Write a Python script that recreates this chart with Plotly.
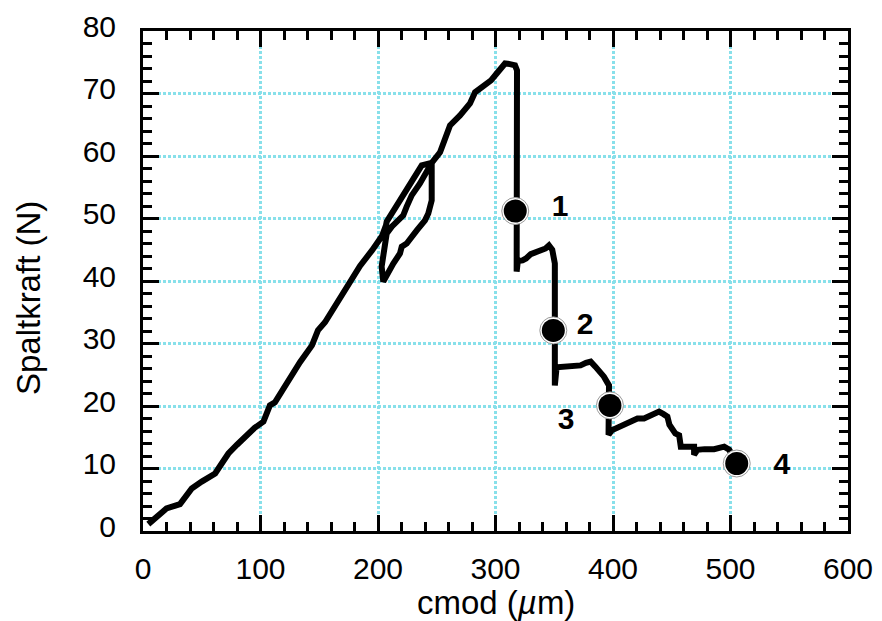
import plotly.graph_objects as go

# Load–CMOD curve (cmod in µm, force in N)
cmod = [4.5, 10, 20, 31.5, 36, 41.5, 50, 61.4, 67, 72.7, 80, 88.4, 95, 102.5, 105, 108,
        112.3, 120.9, 133.6, 143.8, 148.9, 154.9, 163.4, 174.5, 184.7, 194.9, 203.4, 206.8,
        207.4, 218.7, 228.7, 237.2, 245.7,
        245.7, 245.7, 242.8, 240, 233, 224.4, 220.2, 218.7, 213, 204.5,
        203.1, 207.4, 211.7, 221.5, 224.4, 228.7, 235.7, 241.4, 245.7,
        252.8, 261.3, 269.8, 278.3, 282.6, 286.8, 292.5, 296.2, 301, 308.1, 312.3, 316.6, 318.3,
        318, 318, 319, 323, 326, 330, 334, 338, 342.6, 345.5, 348.3, 350.5,
        350.5, 352, 356, 361, 366, 372.4, 377, 381, 385, 389, 392.3, 396.6,
        396.6, 396.2, 398.9, 404, 409.3, 415, 420.8, 426.4, 432, 436, 439.2, 443, 446.3, 448,
        450.6, 453, 456.3, 457.7, 463, 469, 469, 471.9, 478, 486, 494.6, 498.9, 505.3]
force = [1.1, 2.0, 3.6, 4.3, 5.5, 6.8, 7.9, 9.2, 10.8, 12.4, 13.8, 15.4, 16.5, 17.5, 18.5, 20.1,
         20.6, 23.3, 27.0, 29.7, 32.1, 33.4, 36.1, 39.3, 42.4, 44.9, 47.2, 48.9,
         49.5, 52.9, 56.1, 58.5, 58.9,
         57.7, 52.9, 50.8, 49.7, 48.1, 46.0, 45.5, 44.4, 42.8, 39.9,
         42.3, 47.6, 48.7, 50.5, 51.9, 53.7, 55.6, 57.4, 58.9,
         60.6, 64.9, 66.5, 68.4, 70.2, 70.8, 71.6, 72.1, 73.2, 74.8, 74.7, 74.5, 73.7,
         51.2, 41.5, 43.2, 43.3, 43.6, 44.3, 44.6, 45.0, 45.2, 45.7, 45.0, 42.8,
         23.3, 26.2, 26.3, 26.3, 26.4, 26.5, 26.9, 27.1, 26.3, 25.5, 24.7, 23.3,
         20.1, 15.4, 16.1, 16.5, 16.9, 17.3, 18.0, 18.0, 18.5, 19.0, 19.1, 18.7, 18.3, 17.0,
         16.1, 15.6, 15.3, 13.5, 13.5, 13.5, 12.2, 13.0, 13.1, 13.1, 13.5, 13.0, 10.8]

# Marked points and their labels
point_cmod = [316.8, 349.2, 397.4, 505.3]
point_force = [51.2, 32.1, 20.1, 10.8]
label_cmod = [355.0, 376.2, 360.0, 543.6]
label_force = [51.6, 32.7, 17.6, 10.4]
labels = ["1", "2", "3", "4"]

x_ticks = [0, 100, 200, 300, 400, 500, 600]
y_ticks = [0, 10, 20, 30, 40, 50, 60, 70, 80]

FONT = "Liberation Sans, Arial, Helvetica, sans-serif"
GRID = "#88e0ea"

fig = go.Figure()
fig.add_trace(go.Scatter(x=cmod, y=force, mode="lines",
                         line=dict(color="black", width=6), hoverinfo="skip"))
fig.add_trace(go.Scatter(x=point_cmod, y=point_force, mode="markers",
                         marker=dict(size=27, color="white", line=dict(width=1, color="#999999"))))
fig.add_trace(go.Scatter(x=point_cmod, y=point_force, mode="markers",
                         marker=dict(size=23, color="black")))
fig.add_trace(go.Scatter(x=label_cmod, y=label_force, mode="text", text=labels,
                         textfont=dict(family=FONT, size=30, color="black", weight="bold"),
                         textposition="middle center"))

axis_common = dict(
    showline=True, linecolor="black", linewidth=3, mirror="allticks",
    ticks="inside", ticklen=16, tickwidth=3, tickcolor="black",
    showgrid=True, gridcolor=GRID, gridwidth=2.5, griddash="3px,2px",
    zeroline=False, ticklabeloverflow="allow", automargin=False,
    tickfont=dict(family=FONT, size=30, color="black"),
)

fig.update_xaxes(range=[0, 600], tickvals=x_ticks, ticktext=[str(v) for v in x_ticks],
                 minor=dict(dtick=20, tick0=0, ticks="inside", ticklen=9, tickwidth=2.5,
                            tickcolor="black", showgrid=False),
                 ticklabelstandoff=9, **axis_common)
fig.update_yaxes(range=[0, 80], tickvals=y_ticks, ticktext=[str(v) for v in y_ticks],
                 minor=dict(dtick=2, tick0=0, ticks="inside", ticklen=9, tickwidth=2.5,
                            tickcolor="black", showgrid=False),
                 ticklabelstandoff=18, ticklabelshift=-5, **axis_common)

fig.add_annotation(text="Spaltkraft (N)", textangle=-90, xref="paper", yref="paper",
                   x=-0.163, y=0.466, xanchor="center", yanchor="middle", showarrow=False,
                   font=dict(family=FONT, size=33, color="black"))
fig.add_annotation(text="cmod (<i>µ</i>m)", xref="paper", yref="paper",
                   x=0.5, y=-0.143, xanchor="center", yanchor="middle", showarrow=False,
                   font=dict(family=FONT, size=33, color="black"))

fig.update_layout(
    width=874, height=613,
    margin=dict(l=135, r=34, t=23, b=90, autoexpand=False),
    plot_bgcolor="white", paper_bgcolor="white",
    showlegend=False,
)

fig.write_html("out.html")
